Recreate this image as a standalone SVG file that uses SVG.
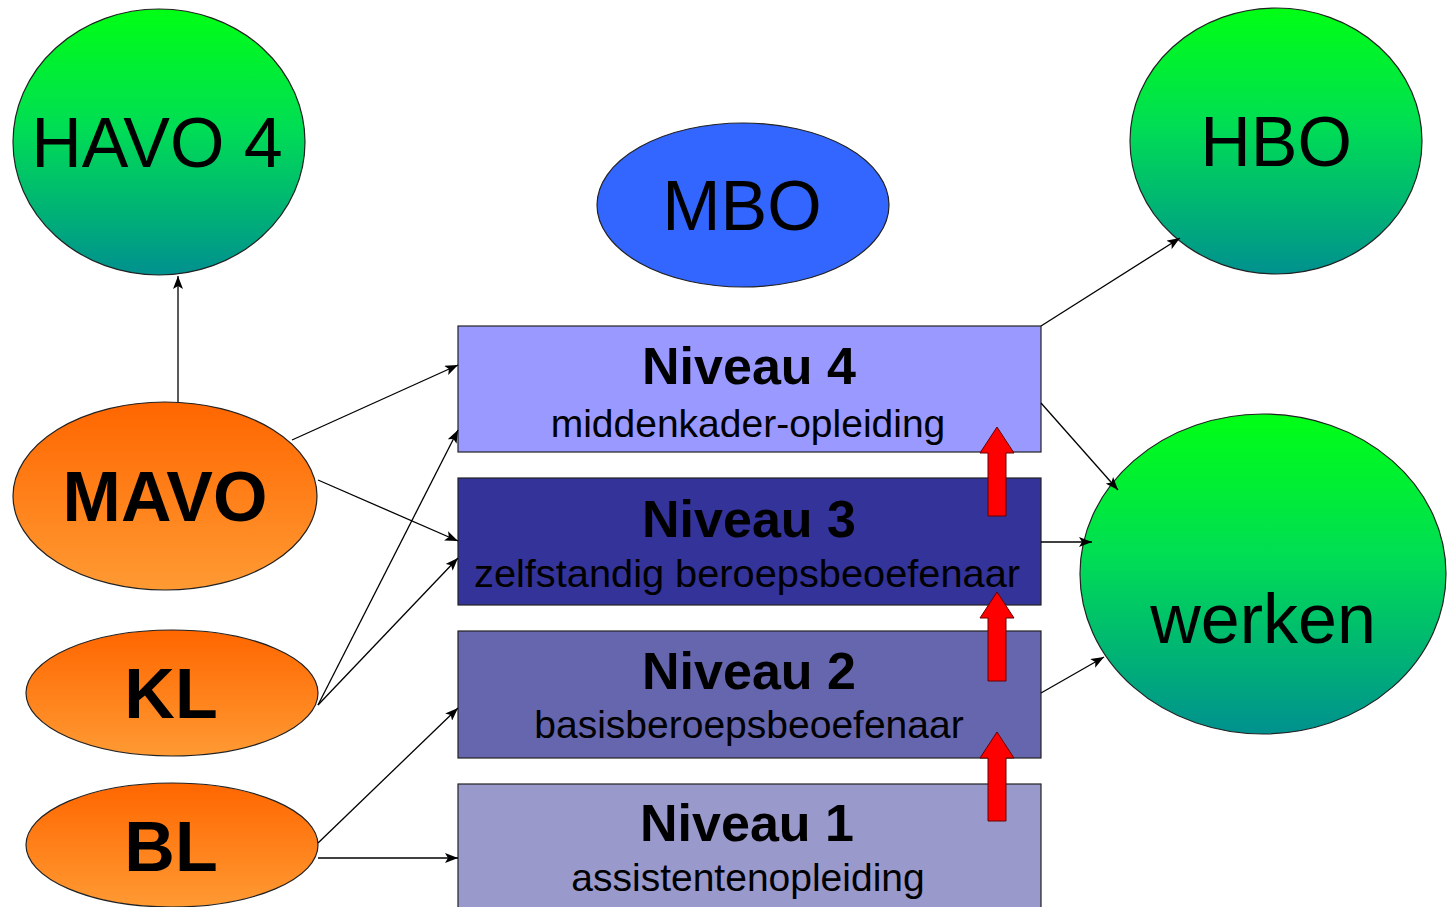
<svg xmlns="http://www.w3.org/2000/svg" width="1449" height="907" viewBox="0 0 1449 907">
<defs>
<linearGradient id="green" x1="0" y1="0" x2="0" y2="1">
<stop offset="0" stop-color="#00FF14"/>
<stop offset="0.45" stop-color="#00DD55"/>
<stop offset="1" stop-color="#00918F"/>
</linearGradient>
<linearGradient id="orange" x1="0" y1="0" x2="0" y2="1">
<stop offset="0" stop-color="#FF6600"/>
<stop offset="1" stop-color="#FF9A33"/>
</linearGradient>
<marker id="ah" markerWidth="13" markerHeight="10" refX="13" refY="5" orient="auto" markerUnits="userSpaceOnUse">
<path d="M0,0 L13,5 L0,10 L3,5 Z" fill="#000"/>
</marker>
<path id="redarrow" d="M-9,0 L-9,-63 L-17,-63 L0,-89 L17,-63 L9,-63 L9,0 Z"/>
</defs>
<style>
.shape{stroke:#222;stroke-width:1.2}
.big{font-family:"Liberation Sans",Arial,sans-serif;font-size:70px;fill:#000;text-anchor:middle}
.bold{font-weight:bold}
.title{font-family:"Liberation Sans",Arial,sans-serif;font-size:52px;font-weight:bold;fill:#000;text-anchor:middle}
.sub{font-family:"Liberation Sans",Arial,sans-serif;font-size:39px;fill:#000;text-anchor:middle}
.conn{stroke:#000;stroke-width:1.3;fill:none;marker-end:url(#ah)}
.red{fill:#FF0000;stroke:#660000;stroke-width:1}
</style>
<rect width="1449" height="907" fill="#fff"/>

<g id="havo4">
<ellipse class="shape" cx="159" cy="142" rx="146" ry="133" fill="url(#green)"/>
<text class="big" x="157" y="167">HAVO 4</text>
</g>
<g id="mbo">
<ellipse class="shape" cx="743" cy="205" rx="146" ry="82" fill="#3366FF"/>
<text class="big" x="742" y="230">MBO</text>
</g>
<g id="hbo">
<ellipse class="shape" cx="1276" cy="141" rx="146" ry="133" fill="url(#green)"/>
<text class="big" x="1276" y="166">HBO</text>
</g>
<g id="werken">
<ellipse class="shape" cx="1263" cy="574" rx="183" ry="160" fill="url(#green)"/>
<text class="big" x="1263" y="643">werken</text>
</g>
<g id="mavo">
<ellipse class="shape" cx="165" cy="496" rx="152" ry="94" fill="url(#orange)"/>
<text class="big bold" x="165" y="521">MAVO</text>
</g>
<g id="kl">
<ellipse class="shape" cx="172" cy="693" rx="146" ry="63" fill="url(#orange)"/>
<text class="big bold" x="171" y="718">KL</text>
</g>
<g id="bl">
<ellipse class="shape" cx="172" cy="845" rx="146" ry="62" fill="url(#orange)"/>
<text class="big bold" x="171" y="871">BL</text>
</g>

<g id="niveau4">
<rect class="shape" x="458" y="326" width="583" height="126" fill="#9999FF"/>
<text class="title" x="749" y="384">Niveau 4</text>
<text class="sub" x="748" y="437">middenkader-opleiding</text>
</g>
<g id="niveau3">
<rect class="shape" x="458" y="478" width="583" height="127" fill="#333399"/>
<text class="title" x="749" y="537">Niveau 3</text>
<text class="sub" x="747" y="587" textLength="546" lengthAdjust="spacingAndGlyphs">zelfstandig beroepsbeoefenaar</text>
</g>
<g id="niveau2">
<rect class="shape" x="458" y="631" width="583" height="127" fill="#6666AE"/>
<text class="title" x="749" y="689">Niveau 2</text>
<text class="sub" x="749" y="738">basisberoepsbeoefenaar</text>
</g>
<g id="niveau1">
<rect class="shape" x="458" y="784" width="583" height="130" fill="#9999CC"/>
<text class="title" x="747" y="841">Niveau 1</text>
<text class="sub" x="748" y="891">assistentenopleiding</text>
</g>

<g id="red-arrows">
<use href="#redarrow" class="red" x="997" y="516"/>
<use href="#redarrow" class="red" x="997" y="681"/>
<use href="#redarrow" class="red" x="997" y="821"/>
</g>

<g id="connectors">
<line class="conn" x1="178" y1="402" x2="178" y2="276"/>
<line class="conn" x1="292" y1="440" x2="458" y2="365"/>
<line class="conn" x1="318" y1="480" x2="458" y2="541"/>
<line class="conn" x1="318" y1="705" x2="458" y2="430"/>
<line class="conn" x1="318" y1="705" x2="458" y2="558"/>
<line class="conn" x1="318" y1="843" x2="458" y2="708"/>
<line class="conn" x1="318" y1="858" x2="458" y2="858"/>
<line class="conn" x1="1041" y1="326" x2="1180" y2="238"/>
<line class="conn" x1="1041" y1="403" x2="1118" y2="490"/>
<line class="conn" x1="1041" y1="542" x2="1092" y2="542"/>
<line class="conn" x1="1041" y1="693" x2="1104" y2="657"/>
</g>
</svg>
